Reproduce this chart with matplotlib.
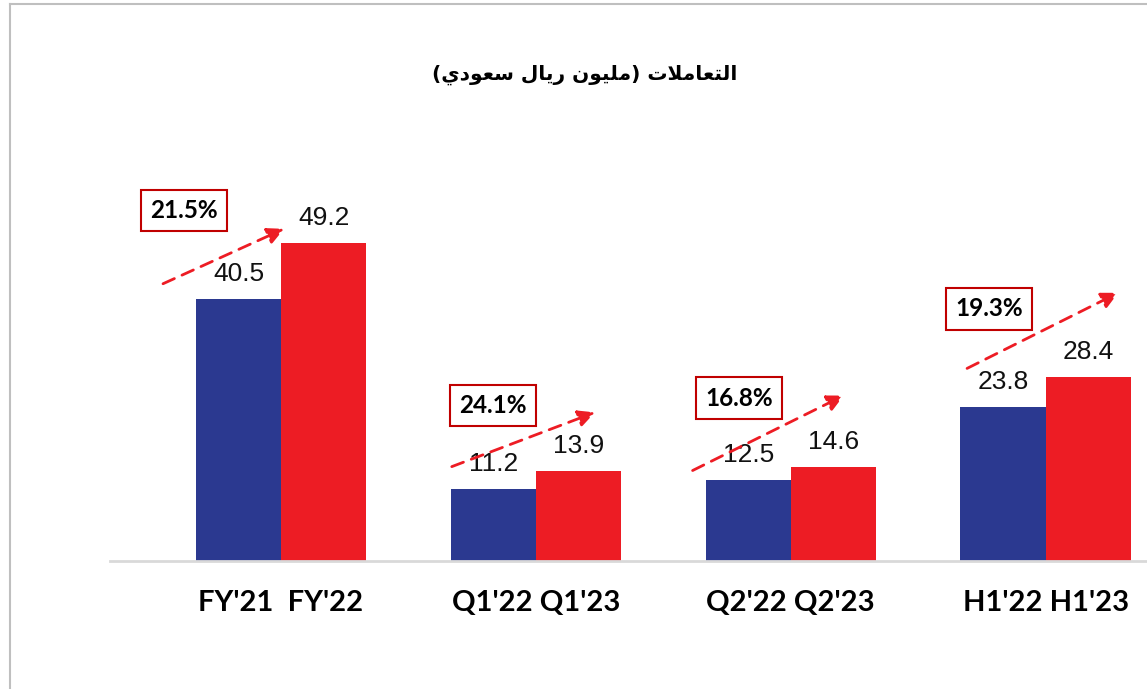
import matplotlib.pyplot as plt
import numpy as np

# data
groups = ["FY'21  FY'22", "Q1'22 Q1'23", "Q2'22 Q2'23", "H1'22 H1'23"]
prev_vals = [40.5, 11.2, 12.5, 23.8]
curr_vals = [49.2, 13.9, 14.6, 28.4]
growth = ["21.5%", "24.1%", "16.8%", "19.3%"]

# title: "التعاملات (مليون ريال سعودي)" written in shaped glyphs, visual order
title = ("(\uFEF1\uFEA9\uFEEE\uFECC\uFEB3 \uFEDD\uFE8E\uFEF3\uFEAD "
         "\uFEE5\uFEEE\uFEF4\uFEE0\uFEE3) "
         "\uFE95\uFEFC\uFEE3\uFE8E\uFECC\uFE98\uFEDF\uFE8D")

# layout of the growth arrows / boxes (offset from group centre, y in data units)
arrow_from = [(-0.463, 42.9), (-0.330, 14.6), (-0.385, 14.0), (-0.308, 29.8)]
arrow_to = [(0.012, 51.4), (0.232, 23.0), (0.208, 25.6), (0.285, 41.5)]
box_at = [(-0.381, 54.2), (-0.169, 24.1), (-0.204, 25.2), (-0.222, 39.0)]

blue = '#2b3990'
red = '#ed1c24'

W, H = 1147, 689
fig = plt.figure(figsize=(W / 100, H / 100), dpi=100)
ax = fig.add_axes([110 / W, (H - 561) / H, (W - 110) / W, (561 - 170) / H])

x = np.arange(len(groups))
w = 0.334
ax.bar(x - w / 2, prev_vals, w, color=blue, zorder=2)
ax.bar(x + w / 2, curr_vals, w, color=red, zorder=2)

for i in range(len(groups)):
  for xi, v in ((x[i] - w / 2, prev_vals[i]), (x[i] + w / 2, curr_vals[i])):
    ax.annotate('%.1f' % v, (xi, v), xytext=(0, 18), textcoords='offset points',
                ha='center', va='center', fontsize=19, family='Liberation Sans',
                color='#111111')
  # dashed growth arrow
  (sx, sy), (ex, ey) = arrow_from[i], arrow_to[i]
  ax.annotate('', xy=(x[i] + ex, ey), xytext=(x[i] + sx, sy),
              arrowprops=dict(arrowstyle='-|>,head_length=1.0,head_width=0.5',
                              color=red, lw=2, linestyle=(0, (4.5, 3)),
                              shrinkA=0, shrinkB=0), zorder=3)
  bx, by = box_at[i]
  ax.text(x[i] + bx, by, growth[i], ha='center', va='center', fontsize=17.5,
          fontweight='bold', family='Lato', color='black', zorder=4,
          bbox=dict(boxstyle='square,pad=0.38', fc='white', ec='#c00000', lw=1.5))

ax.set_xlim(-0.671, 3.398)
ax.set_ylim(0, 60.5)
ax.set_xticks(x)
ax.set_xticklabels(groups, fontsize=21, fontweight='bold', family='Lato')
ax.tick_params(axis='x', length=0, pad=21)
ax.set_yticks([])
for s in ['top', 'left', 'right']:
  ax.spines[s].set_visible(False)
ax.spines['bottom'].set_color('#d9d9d9')
ax.spines['bottom'].set_linewidth(2)

fig.text(585 / W, 1 - 75 / H, title, ha='center', va='center', fontsize=14.5,
         fontweight='bold', family='DejaVu Sans')

# outer frame (grey, only left and top visible)
fig.add_artist(plt.Line2D([10 / W, 10 / W], [0, 1 - 4 / H], color='#bfbfbf',
                          lw=1.5, transform=fig.transFigure))
fig.add_artist(plt.Line2D([10 / W, 1], [1 - 4 / H, 1 - 4 / H], color='#bfbfbf',
                          lw=1.5, transform=fig.transFigure))

plt.savefig('out.png', dpi=100)
